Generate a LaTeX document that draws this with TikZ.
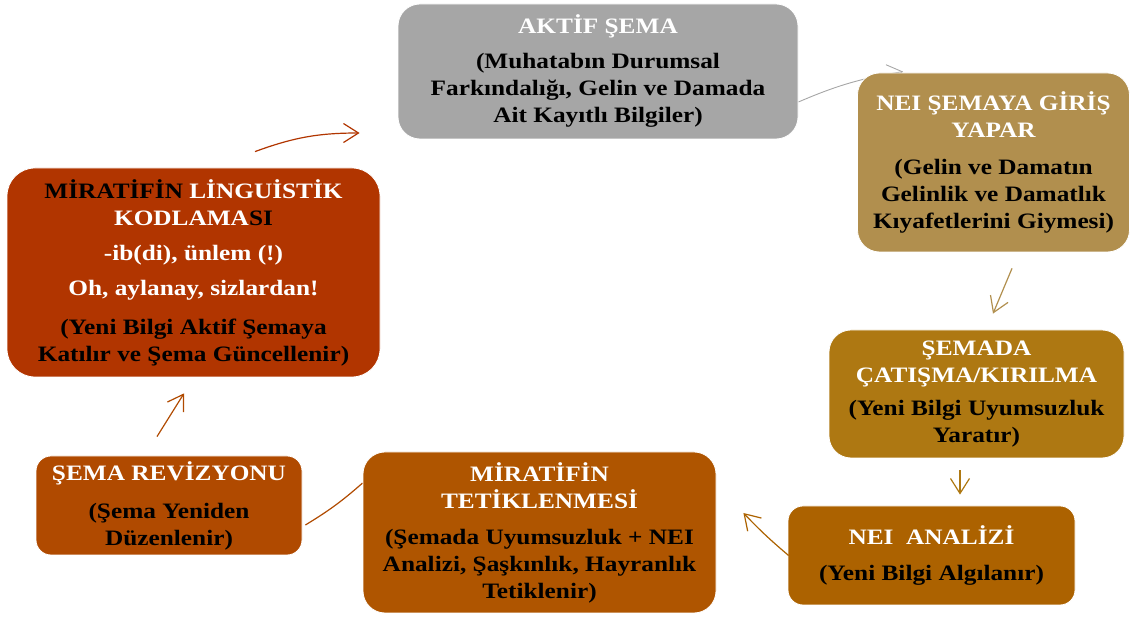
\documentclass[tikz,border=0pt]{standalone}
\usepackage{fontspec}
\setmainfont{Liberation Serif}[FakeStretch=1.15]
\usetikzlibrary{arrows.meta}
\pgfdeclarelayer{bg}
\pgfsetlayers{bg,main}
\definecolor{cgray}{HTML}{A6A6A6}
\definecolor{ctan}{HTML}{B18F4E}
\definecolor{cgold}{HTML}{AE7812}
\definecolor{cana}{HTML}{AC6200}
\definecolor{ctet}{HTML}{AF5500}
\definecolor{crev}{HTML}{B04A00}
\definecolor{clin}{HTML}{B13500}
\newcommand\wt[1]{\textcolor{white}{#1}}
\tikzset{
  box/.style={rounded corners=22pt, align=center, inner sep=0pt, text=black,
    font=\bfseries\fontsize{22}{27}\selectfont, draw=white, line width=0.8pt},
  arr/.style={line width=1.2pt, -{Straight Barb[length=15pt,width=19pt,line width=1.2pt]}},
}
\begin{document}
\begin{tikzpicture}[x=1pt,y=1pt]
\useasboundingbox (0,0) rectangle (1130,617);
\node[box, fill=cgray, minimum width=400pt, minimum height=135pt] (akt) at (598,545.5)
  {\wt{AKTİF ŞEMA}\\[8pt](Muhatabın Durumsal\\Farkındalığı, Gelin ve Damada\\Ait Kayıtlı Bilgiler)};
\node[box, fill=ctan, minimum width=272pt, minimum height=179pt] (nei) at (993.5,454.5)
  {\wt{NEI ŞEMAYA GİRİŞ}\\\wt{YAPAR}\\[10pt](Gelin ve Damatın\\Gelinlik ve Damatlık\\Kıyafetlerini Giymesi)};
\node[box, fill=cgold, minimum width=295pt, minimum height=128pt] (cat) at (976.5,223)
  {\wt{ŞEMADA}\\\wt{ÇATIŞMA/KIRILMA}\\[6pt](Yeni Bilgi Uyumsuzluk\\Yaratır)};
\node[box, fill=cana, rounded corners=15pt, minimum width=287pt, minimum height=99pt] (ana) at (931.5,61.5)
  {\wt{NEI~~ANALİZİ}\\[9pt](Yeni Bilgi Algılanır)};
\node[box, fill=ctet, minimum width=353pt, minimum height=161pt] (tet) at (539.5,84.5)
  {\wt{MİRATİFİN}\\\wt{TETİKLENMESİ}\\[9pt](Şemada Uyumsuzluk + NEI\\Analizi, Şaşkınlık, Hayranlık\\Tetiklenir)};
\node[box, fill=crev, rounded corners=15pt, minimum width=266pt, minimum height=99pt] (rev) at (169,111.5)
  {\wt{ŞEMA REVİZYONU}\\[11pt](Şema Yeniden\\Düzenlenir)};
\node[box, fill=clin, rounded corners=28pt, minimum width=373pt, minimum height=209pt] (lin) at (193.5,344.5)
  {MİRATİFİN \wt{LİNGUİSTİK}\\\wt{KODLAMA}SI\\[8pt]\wt{-ib(di), ünlem (!)}\\[8pt]\wt{Oh, aylanay, sizlardan!}\\[12pt](Yeni Bilgi Aktif Şemaya\\Katılır ve Şema Güncellenir)};
\begin{pgfonlayer}{bg}
\draw[arr, cgray, line width=0.9pt, -{Straight Barb[length=15pt,width=19pt,line width=0.9pt]}]
  ([yshift=-30.5pt]akt.east) to[bend left=7] ([xshift=46pt,yshift=1pt]nei.north west);
\draw[crev, line width=1.2pt] ([yshift=49.5pt]tet.west) to[bend left=5] ([xshift=3pt,yshift=-19.5pt]rev.east);
\end{pgfonlayer}
\draw[arr, ctan] ([xshift=18.5pt,yshift=-16pt]nei.south) -- ([xshift=16.5pt,yshift=16pt]cat.north);
\draw[arr, cgold] ([xshift=-16.5pt,yshift=-12pt]cat.south) -- ([xshift=28.5pt,yshift=11pt]ana.north);
\draw[arr, cana] ([xshift=1pt]ana.west) to[bend left=3] ([xshift=27pt,yshift=19.5pt]tet.east);
\draw[arr, crev] ([xshift=-12pt,yshift=19pt]rev.north) -- ([xshift=-9.5pt,yshift=-16pt]lin.south);
\draw[arr, clin] ([xshift=61.5pt,yshift=16pt]lin.north) to[bend left=10] ([xshift=-38pt,yshift=-61.5pt]akt.west);
\end{tikzpicture}
\end{document}
